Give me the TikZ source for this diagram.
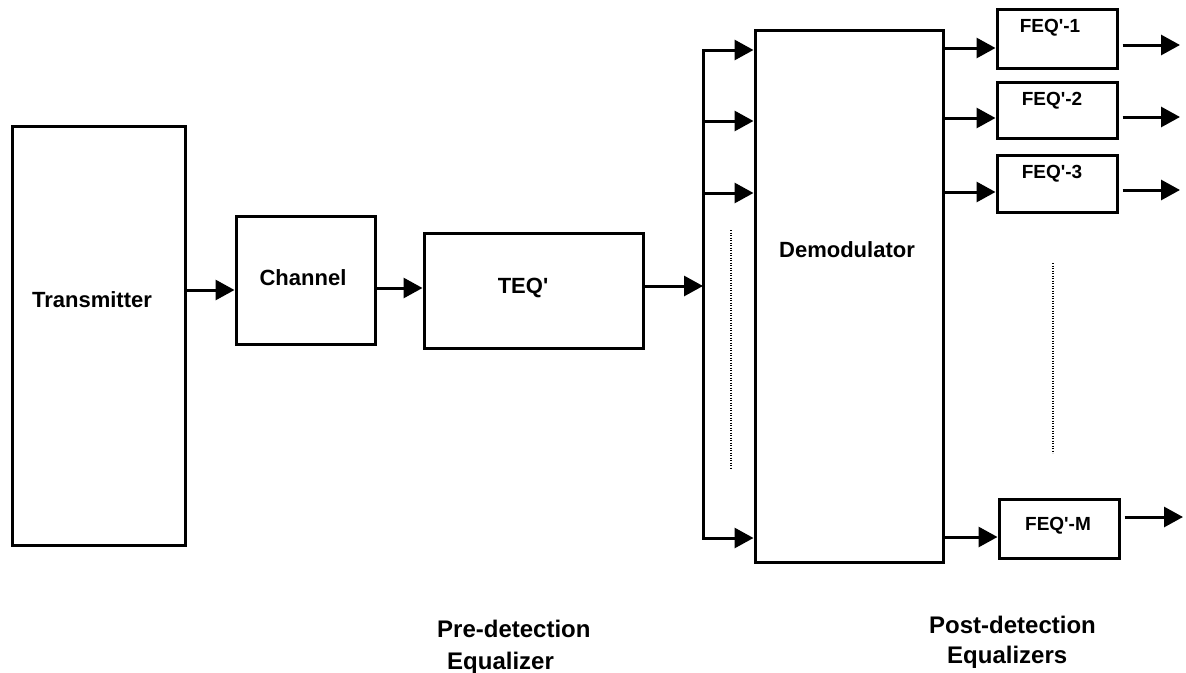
\documentclass[tikz,border=0pt]{standalone}
\usepackage{fontspec}
\setmainfont{Liberation Sans}
\usetikzlibrary{arrows.meta}
\newcommand{\pr}{\textquotesingle}
\begin{document}
\begin{tikzpicture}[x=1pt,y=-1pt,
  blk/.style={draw, line width=3pt, inner sep=0pt},
  wire/.style={line width=3pt},
  arr/.style={line width=3pt, -{Triangle[length=19pt,width=20pt]}},
  dots/.style={line width=2pt, dash pattern=on 1.2pt off 1.3pt},
  txt/.style={font=\fontsize{22}{26}\selectfont\bfseries, anchor=base, inner sep=0pt},
  ftxt/.style={font=\fontsize{19}{22}\selectfont\bfseries, anchor=base, inner sep=0pt},
  lbl/.style={font=\fontsize{24}{28}\selectfont\bfseries, anchor=base west, inner sep=0pt}]
\useasboundingbox (0,0) rectangle (1186,672);

% blocks
\node[blk, minimum width=173pt, minimum height=419pt] (tx) at (98.5,335.5) {};
\node[blk, minimum width=139pt, minimum height=128pt] (ch) at (305.5,280) {};
\node[blk, minimum width=219pt, minimum height=115pt] (teq) at (533.5,290.5) {};
\node[blk, minimum width=188pt, minimum height=532pt] (dm) at (849,296) {};
\node[blk, minimum width=120pt, minimum height=59pt] (f1) at (1057,38.5) {};
\node[blk, minimum width=120pt, minimum height=56pt] (f2) at (1057,110) {};
\node[blk, minimum width=120pt, minimum height=57pt] (f3) at (1057,183.5) {};
\node[blk, minimum width=120pt, minimum height=59pt] (fm) at (1059,528.5) {};

% block texts
\node[txt] (ttx) at (92,307) {Transmitter};
\node[txt] (tch) at (303,285) {Channel};
\node[txt] (tteq) at (523,293) {TEQ\pr};
\node[txt] (tdm) at (847,257) {Demodulator};
\node[ftxt] (tf1) at (1050,32) {FEQ\pr-1};
\node[ftxt] (tf2) at (1052,105) {FEQ\pr-2};
\node[ftxt] (tf3) at (1052,178) {FEQ\pr-3};
\node[ftxt] (tfm) at (1058,530) {FEQ\pr-M};

% signal chain
\draw[arr] (tx.east |- 0,290) -- (ch.west |- 0,290);
\draw[arr] (ch.east |- 0,288) -- (teq.west |- 0,288);

% distribution bus into the demodulator
\coordinate (bt) at (703,50);
\coordinate (bb) at (703,538);
\draw[wire, line cap=rect] (bt) -- (bb);
\draw[arr] (teq.east |- 0,286) -- (bt |- 0,286);
\foreach \yy in {50,121,193,538}
  \draw[arr] (bt |- 0,\yy) -- (dm.west |- 0,\yy);

% demodulator outputs to the equalizers
\draw[arr] (dm.east |- 0,48) -- (f1.west |- 0,48);
\draw[arr] (dm.east |- 0,118) -- (f2.west |- 0,118);
\draw[arr] (dm.east |- 0,192) -- (f3.west |- 0,192);
\draw[arr] (dm.east |- 0,537) -- (fm.west |- 0,537);

% equalizer outputs
\coordinate (o1) at (1180,45);
\coordinate (o2) at (1180,117);
\coordinate (o3) at (1180,190);
\coordinate (om) at (1183,517);
\draw[arr] ([xshift=4pt]f1.east |- o1) -- (o1);
\draw[arr] ([xshift=4pt]f2.east |- o2) -- (o2);
\draw[arr] ([xshift=4pt]f3.east |- o3) -- (o3);
\draw[arr] ([xshift=4pt]fm.east |- om) -- (om);

% ellipsis marks
\draw[dots] (731,230) -- (731,469);
\draw[dots] (1053,263) -- (1053,453);

% captions
\node[lbl] (pre1) at (437,637) {Pre-detection};
\node[lbl] (pre2) at (447,669) {Equalizer};
\node[lbl] (post1) at (929,633) {Post-detection};
\node[lbl] (post2) at (947,663) {Equalizers};
\end{tikzpicture}
\end{document}
